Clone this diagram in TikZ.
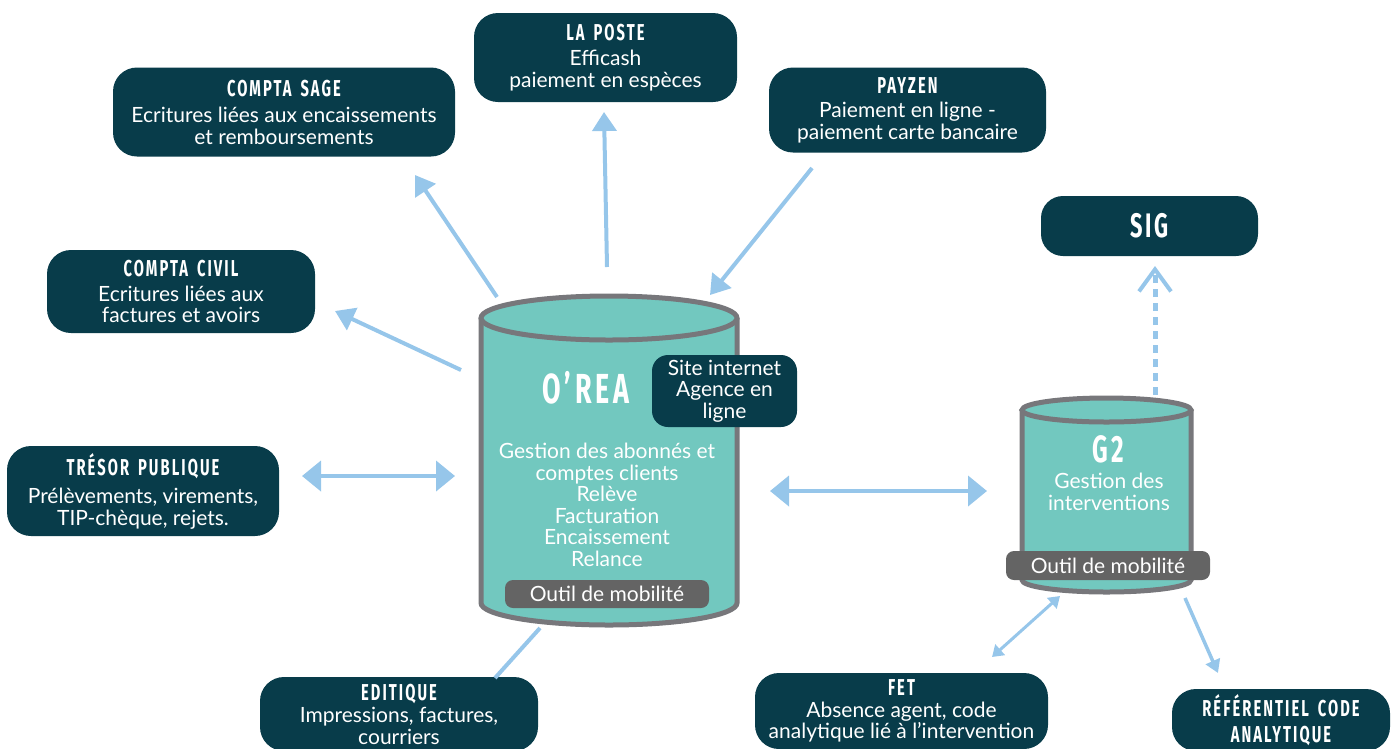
\documentclass[tikz,border=0pt]{standalone}
\usepackage{fontspec}
\setmainfont{Lato}
\newfontfamily\headfont[FakeStretch=0.64,LetterSpace=9,WordSpace=1.6]{Fira Sans}
\usetikzlibrary{arrows.meta,calc}
\definecolor{dark}{RGB}{8,60,74}
\definecolor{cylfill}{RGB}{114,200,191}
\definecolor{cylline}{RGB}{119,119,123}
\definecolor{arrowc}{RGB}{150,198,234}
\definecolor{outilc}{RGB}{100,100,100}
\newcommand{\hd}[1]{{\headfont\bfseries\fontsize{23}{24}\selectfont #1}}
\begin{document}
\begin{tikzpicture}[x=1pt,y=-1pt,
  box/.style={fill=dark,rounded corners=24pt,text=white,align=center,inner sep=0pt,
    font=\fontsize{21}{21.5}\selectfont},
  ghost/.style={inner sep=0pt},
  txt/.style={text=white,align=center,inner sep=0pt,font=\fontsize{21}{21.5}\selectfont},
  outil/.style={fill=outilc,rounded corners=8pt,text=white,inner sep=0pt,
    font=\fontsize{21}{21.5}\selectfont},
  arr/.style={draw=arrowc,line width=4pt,-{Triangle[length=19pt,width=24pt]}},
  darr/.style={draw=arrowc,line width=4pt,{Triangle[length=19pt,width=30pt]}-{Triangle[length=19pt,width=30pt]}},
  cyl/.style={fill=cylfill,draw=cylline,line width=5pt}
]
\useasboundingbox (0,0) rectangle (1392,748);
\clip (0,0) rectangle (1392,748);

% boxes
\node[box,minimum width=263pt,minimum height=89pt] (poste) at (605.5,57.5)
  {\hd{LA POSTE}\\[4pt] Efficash\\ paiement en espèces};
\node[box,minimum width=342pt,minimum height=89pt] (sage) at (284,112)
  {\hd{COMPTA SAGE}\\[5pt] Ecritures liées aux encaissements\\ et remboursements};
\node[box,minimum width=277pt,minimum height=85pt] (payzen) at (907.5,110)
  {\hd{PAYZEN}\\[3pt] Paiement en ligne -\\ paiement carte bancaire};
\node[box,minimum width=217pt,minimum height=60pt,rounded corners=22pt] (sig) at (1149.5,226)
  {{\headfont\bfseries\fontsize{34}{34}\selectfont SIG}};
\node[box,minimum width=268pt,minimum height=83pt] (civil) at (181,291.5)
  {\hd{COMPTA CIVIL}\\[3pt] Ecritures liées aux\\ factures et avoirs};
\node[box,minimum width=272pt,minimum height=90pt] (tresor) at (143,491)
  {\hd{TRÉSOR PUBLIQUE}\\[7pt] Prélèvements, virements,\\ TIP-chèque, rejets.};
\node[box,minimum width=278pt,minimum height=74pt] (editique) at (399,714)
  {\hd{EDITIQUE}\\[1pt] Impressions, factures,\\ courriers};
\node[box,minimum width=293pt,minimum height=76pt] (fet) at (901.5,711)
  {\hd{FET}\\[0pt] Absence agent, code\\ analytique lié à l’intervention};
\node[box,minimum width=218pt,minimum height=62pt] (ref) at (1281,720)
  {\hd{RÉFÉRENTIEL CODE}\\[5pt] \hd{ANALYTIQUE}};

% O'REA cylinder
\path[cyl] (481,318) -- (481,603) arc[start angle=180,end angle=360,x radius=128pt,y radius=22pt] -- (737,318);
\path[cyl] (609,318) ellipse[x radius=128pt,y radius=22pt];
\node[ghost,minimum width=256pt,minimum height=330pt] (orea) at (609,461) {};
\node[txt] (oreatitle) at (586,388) {{\headfont\bfseries\fontsize{42}{44}\selectfont O’REA}};
\node[txt] (oreatext) at (607,505) {Gestion des abonnés et\\ comptes clients\\ Relève\\ Facturation\\ Encaissement\\ Relance};
\node[outil,minimum width=204pt,minimum height=28pt] (outil1) at (607,594) {Outil de mobilité};
\node[box,minimum width=145pt,minimum height=72pt,rounded corners=16pt] (site) at (724.5,391)
  {Site internet\\ Agence en\\ ligne};

% G2 cylinder
\path[cyl] (1022,410) -- (1022,580) arc[start angle=180,end angle=360,x radius=84.5pt,y radius=12pt] -- (1191,410);
\path[cyl] (1106.5,410) ellipse[x radius=84.5pt,y radius=12pt];
\node[ghost,minimum width=169pt,minimum height=194pt] (g2) at (1106.5,495) {};
\node[txt] (g2title) at (1108,449) {{\headfont\bfseries\fontsize{38}{40}\selectfont G2}};
\node[txt] (g2text) at (1109,492) {Gestion des\\ interventions};
\node[outil,minimum width=204pt,minimum height=29pt] (outil2) at (1108,565.5) {Outil de mobilité};

% connector end points
\coordinate (oSage) at (497,297);   \coordinate (tSage) at (415,175);
\coordinate (oPoste) at (607,267);  \coordinate (tPoste) at (604,112);
\coordinate (oPay) at (812,168);    \coordinate (tPay) at (710,295);
\coordinate (oCivil) at (461,370);  \coordinate (tCivil) at (335,311);
\coordinate (eTres) at (302,476);   \coordinate (eOrL) at (455,476);
\coordinate (eOrR) at (770,491);    \coordinate (eG2L) at (987,491);
\coordinate (oEdit) at (540,628);   \coordinate (tEdit) at (495,678);
\coordinate (oSig) at (1155,395);   \coordinate (tSig) at (1155,266);
\coordinate (eG2B) at (1060,596);   \coordinate (eFet) at (992,657);
\coordinate (oRef) at (1185,598);   \coordinate (tRef) at (1218,673);

\draw[arr] (oSage) -- (tSage);
\draw[arr] (oPoste) -- (tPoste);
\draw[arr] (oPay) -- (tPay);
\draw[arr] (oCivil) -- (tCivil);
\draw[darr] (eTres) -- (eOrL);
\draw[darr] (eOrR) -- (eG2L);
\draw[draw=arrowc,line width=4pt] (oEdit) -- (tEdit);
\draw[draw=arrowc,line width=5pt,dash pattern=on 8pt off 6pt,
  -{Straight Barb[length=22pt,width=32pt,line width=4pt]}] (oSig) -- (tSig);
\draw[draw=arrowc,line width=3pt,{Triangle[length=11pt,width=14pt]}-{Triangle[length=11pt,width=14pt]}] (eG2B) -- (eFet);
\draw[draw=arrowc,line width=3.5pt,-{Triangle[length=13pt,width=15pt]}] (oRef) -- (tRef);
\end{tikzpicture}
\end{document}
